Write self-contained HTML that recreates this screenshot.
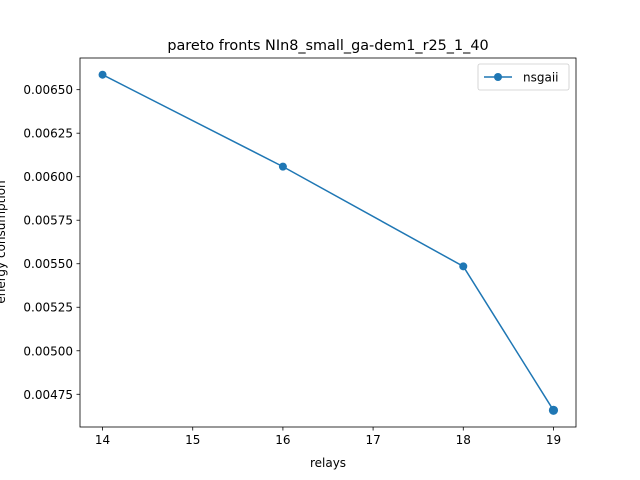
<!DOCTYPE html>
<html><head><meta charset="utf-8"><style>
body{margin:0;background:#fff}
svg{display:block;font-family:"DejaVu Sans","Liberation Sans",sans-serif}
</style></head><body>
<svg id="chart" width="640" height="480" viewBox="0 0 640 480">
<rect width="640" height="480" fill="#fff"/>
<text x="328" y="50" font-size="14.4" text-anchor="middle">pareto fronts NIn8_small_ga-dem1_r25_1_40</text>
<g id="xticks"></g><g id="yticks"></g>
<text x="328" y="467" font-size="12" text-anchor="middle">relays</text>
<text transform="translate(5,242) rotate(-90)" font-size="12" text-anchor="middle">energy consumption</text>
<g id="series"></g>
<rect x="80" y="58" width="496" height="369" fill="none" stroke="#000" stroke-width="0.8"/>
<g>
<rect x="478" y="64" width="91" height="26" rx="2" fill="#fff" stroke="#ccc" stroke-width="0.8"/>
<line x1="484" y1="77" x2="512" y2="77" stroke="#1f77b4" stroke-width="1.5"/>
<circle cx="498" cy="77" r="4" fill="#1f77b4"/>
<text x="523" y="81.5" font-size="12">nsgaii</text>
</g>
</svg>
<script>
const xValues=[14,16,18,19,19];
const yValues=[0.006586,0.006058,0.005485,0.004658,0.004658];
const xTickValues=[14,15,16,17,18,19];
const yTickValues=[0.00475,0.005,0.00525,0.0055,0.00575,0.006,0.00625,0.0065];
const yTickLabels=["0.00475","0.00500","0.00525","0.00550","0.00575","0.00600","0.00625","0.00650"];
const NS="http://www.w3.org/2000/svg";
const L=80,R=576,T=58,B=427;
const xMin=13.75,xMax=19.25;
const yMin=0.004562,yMax=0.006682;
const sx=v=>L+(v-xMin)/(xMax-xMin)*(R-L);
const sy=v=>B-(v-yMin)/(yMax-yMin)*(B-T);
function mk(t,a){const e=document.createElementNS(NS,t);for(const k in a)e.setAttribute(k,a[k]);return e;}
const xg=document.getElementById('xticks');
xTickValues.forEach(v=>{const x=sx(v);
 const l=mk('line',{x1:x,y1:B,x2:x,y2:B+3.5,stroke:'#000','stroke-width':0.8});
 
 
 xg.appendChild(l);
 const t=mk('text',{x:x,y:B+17,'font-size':12,'text-anchor':'middle'});t.textContent=v;
 
 
 xg.appendChild(t);});
const yg=document.getElementById('yticks');
yTickValues.forEach((v,i)=>{const y=sy(v);
 const l=mk('line',{x1:L-3.5,y1:y,x2:L,y2:y,stroke:'#000','stroke-width':0.8});
 
 
 yg.appendChild(l);
 const t=mk('text',{x:L-7,y:y+4.5,'font-size':12,'text-anchor':'end'});t.textContent=yTickLabels[i];
 
 
 yg.appendChild(t);});
const sg=document.getElementById('series');
const pts=xValues.map((v,i)=>sx(v)+','+sy(yValues[i])).join(' ');
const pl=mk('polyline',{points:pts,fill:'none',stroke:'#1f77b4','stroke-width':1.5});


sg.appendChild(pl);
xValues.forEach((v,i)=>{const c=mk('circle',{cx:sx(v),cy:sy(yValues[i]),r:(i===xValues.length-1?4.6:4),fill:'#1f77b4'});
 
 
 sg.appendChild(c);});
</script>
</body></html>
